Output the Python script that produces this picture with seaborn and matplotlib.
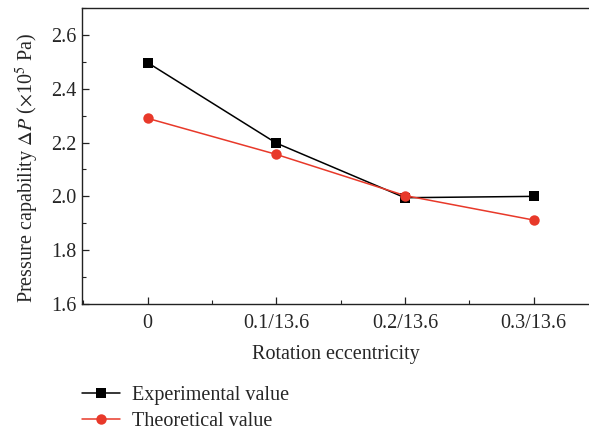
import matplotlib
matplotlib.use("Agg")
import matplotlib.pyplot as plt
from matplotlib.ticker import MultipleLocator
import seaborn as sns
import pandas as pd

eccentricity = ["0", "0.1/13.6", "0.2/13.6", "0.3/13.6"]
experimental = [2.497, 2.198, 1.995, 2.000]
theoretical = [2.290, 2.156, 2.003, 1.912]

sns.set_theme(style="ticks")
plt.rcParams["font.family"] = ["Liberation Serif", "DejaVu Serif"]
plt.rcParams["mathtext.fontset"] = "stix"

pos = list(range(len(eccentricity)))
df = pd.DataFrame({
    "pos": pos * 2,
    "value": experimental + theoretical,
    "series": ["Experimental value"] * 4 + ["Theoretical value"] * 4,
})

fig = plt.figure(figsize=(5.89, 4.30), dpi=100)
ax = fig.add_axes([82 / 589, 1 - 304 / 430, 1 - 82 / 589 + 0.002, (304 - 8) / 430])

sns.lineplot(data=df[df.series == "Experimental value"], x="pos", y="value",
             color="black", marker="s", markersize=7, markeredgewidth=0,
             linewidth=1.1, ax=ax, label="Experimental value")
sns.lineplot(data=df[df.series == "Theoretical value"], x="pos", y="value",
             color="#e8392a", marker="o", markersize=7.5, markeredgewidth=0,
             linewidth=1.1, ax=ax, label="Theoretical value")

ax.set_xlim(-0.51, 3.44)
ax.set_ylim(1.6, 2.7)
ax.set_xticks(pos)
ax.set_xticklabels(eccentricity)
ax.xaxis.set_minor_locator(MultipleLocator(0.5))
ax.set_yticks([1.6, 1.8, 2.0, 2.2, 2.4, 2.6])
ax.set_yticklabels(["1.6", "1.8", "2.0", "2.2", "2.4", "2.6"])
ax.yaxis.set_minor_locator(MultipleLocator(0.1))

fs = 14.5
ax.tick_params(which="both", direction="in", labelsize=fs, color="#222222")
ax.tick_params(which="major", length=5, width=0.9)
ax.tick_params(which="minor", length=3, width=0.8)
ax.tick_params(axis="x", pad=7)
ax.tick_params(axis="y", pad=4)

for s in ax.spines.values():
    s.set_linewidth(1.0)
    s.set_color("#222222")
ax.spines["right"].set_visible(False)

ax.set_xlabel("Rotation eccentricity", fontsize=fs, labelpad=9)
ax.set_ylabel(r"Pressure capability $\mathit{\Delta P}$ ($\times$10$^5$ Pa)",
              fontsize=fs)
ax.yaxis.set_label_coords(-0.08, 0.46)

handles, labels = ax.get_legend_handles_labels()
ax.get_legend().remove()
fig.legend(handles, labels, loc="upper left", bbox_to_anchor=(74 / 589, 1 - 378 / 430),
           frameon=False, fontsize=fs, handlelength=1.9, handletextpad=0.6,
           labelspacing=0.35, borderaxespad=0)

fig.savefig("out.png", dpi=100)
